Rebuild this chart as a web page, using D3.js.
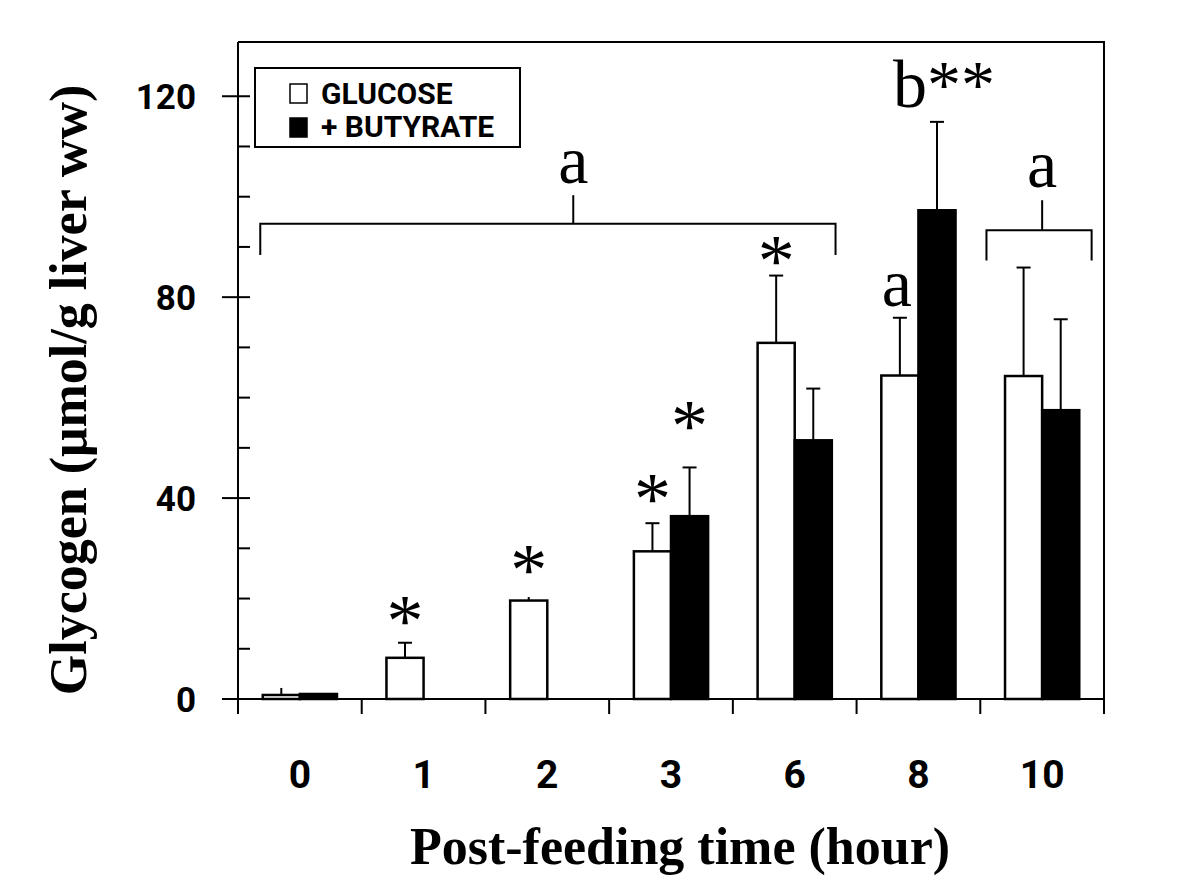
<!DOCTYPE html>
<html>
<head>
<meta charset="utf-8">
<script src="https://cdn.jsdelivr.net/npm/d3@7"></script>
<style>
  html, body { margin: 0; padding: 0; background: #fff; }
  svg { display: block; }
</style>
</head>
<body>
<svg id="chart" width="1200" height="881"></svg>
<script>
// ---------- data ----------
const categories = ["0", "1", "2", "3", "6", "8", "10"];
const seriesNames = ["GLUCOSE", "+ BUTYRATE"];
const glucoseMean = [0.8, 8.2, 19.6, 29.4, 70.9, 64.4, 64.3];
const glucoseSE   = [1.4, 3.0, 0.7, 5.6, 13.4, 11.5, 21.6];
const butyrateMean = [1.0, 0, 0, 36.4, 51.5, 97.3, 57.5];
const butyrateSE   = [0, 0, 0, 9.7, 10.3, 17.6, 18.1];
const yMajorTicks = [0, 40, 80, 120];
const yMinorTicks = [10, 20, 30, 50, 60, 70, 90, 100, 110];
const xTitle = "Post-feeding time (hour)";
const yTitle = "Glycogen (μmol/g liver ww)";
// significance marks: category, series, value at mark centre
const starMarks = [
  { cat: "1", series: 0, at: 17.7 },
  { cat: "2", series: 0, at: 27.7 },
  { cat: "3", series: 0, at: 42.0 },
  { cat: "3", series: 1, at: 56.5 },
  { cat: "6", series: 0, at: 89.2 }
];
// letter labels: category, series, text, baseline value
const letterMarks = [
  { cat: "8", series: 0, text: "a", at: 78.2 },
  { cat: "8", series: 1, text: "b**", at: 117.9 }
];
// brackets: span & stem in category-index units, line value, leg-end value, stem-top value, label baseline value
const brackets = [
  { from: -0.32, to: 4.33, stemAt: 2.21, line: 94.6, leg: 88.4, stem: 100.3, labelAt: 102.7, label: "a" },
  { from: 5.55, to: 6.40, stemAt: 6.0, line: 93.3, leg: 87.3, stem: 99.3, labelAt: 102.0, label: "a" }
];

(function () {
// ---------- layout ----------
const svg = d3.select("#chart");
const pLeft = 238, pRight = 1104, pTop = 42, pBottom = 699;

const x = d3.scaleBand().domain(categories).range([pLeft, pRight]).padding(0);
const bw = x.bandwidth();
const xs = d3.scaleBand().domain([0, 1]).range([bw * 0.2, bw * 0.8]).padding(0);
const xi = d3.scaleLinear().domain([0, 1]).range([x(categories[0]) + bw / 2, x(categories[1]) + bw / 2]);
const y = d3.scaleLinear().domain([0, 130.8]).range([pBottom, pTop]);

const serif = "'Liberation Serif', 'Times New Roman', serif";
const sans = "Roboto, 'Liberation Sans', Arial, sans-serif";

const rows = [];
categories.forEach((c, i) => {
  rows.push({ cat: c, s: 0, v: glucoseMean[i], e: glucoseSE[i] });
  rows.push({ cat: c, s: 1, v: butyrateMean[i], e: butyrateSE[i] });
});
const barCx = d => x(d.cat) + xs(d.s) + xs.bandwidth() / 2;

// frame (top + right)
svg.append("path")
  .attr("d", `M${pLeft},${pTop}H${pRight}V${pBottom}`)
  .attr("fill", "none").attr("stroke", "#000").attr("stroke-width", 2);

// error bars
const eb = svg.append("g").attr("stroke", "#000").attr("stroke-width", 2);
rows.filter(d => d.v > 0 && d.e > 0).forEach(d => {
  const cx = barCx(d);
  eb.append("line").attr("x1", cx).attr("x2", cx).attr("y1", y(d.v)).attr("y2", y(d.v + d.e));
  if (d.e > 2) {
    eb.append("line").attr("x1", cx - 7).attr("x2", cx + 7).attr("y1", y(d.v + d.e)).attr("y2", y(d.v + d.e));
  }
});

// bars
svg.append("g").selectAll("rect")
  .data(rows.filter(d => d.v > 0))
  .join("rect")
  .attr("x", d => x(d.cat) + xs(d.s))
  .attr("width", xs.bandwidth())
  .attr("y", d => y(d.v))
  .attr("height", d => y(0) - y(d.v))
  .attr("fill", d => d.s === 0 ? "#fff" : "#000")
  .attr("stroke", "#000")
  .attr("stroke-width", 2.5);

// y axis
const yAxis = svg.append("g").attr("transform", `translate(${pLeft},0)`);
yAxis.append("line").attr("x1", 0).attr("x2", 0).attr("y1", pTop).attr("y2", pBottom)
  .attr("stroke", "#000").attr("stroke-width", 2);
yAxis.selectAll(".maj").data(yMajorTicks).join("line").attr("class", "maj")
  .attr("x1", -16).attr("x2", 12).attr("y1", d => y(d)).attr("y2", d => y(d))
  .attr("stroke", "#000").attr("stroke-width", 2);
yAxis.selectAll(".min").data(yMinorTicks).join("line").attr("class", "min")
  .attr("x1", 0).attr("x2", 12).attr("y1", d => y(d)).attr("y2", d => y(d))
  .attr("stroke", "#000").attr("stroke-width", 2);
yAxis.selectAll("text").data(yMajorTicks).join("text")
  .attr("x", -42).attr("y", d => y(d)).attr("dy", "0.36em")
  .attr("text-anchor", "end")
  .attr("font-family", sans).attr("font-weight", "bold").attr("font-size", 35)
  .text(d => d);

// x axis
const xAxis = svg.append("g");
xAxis.append("line").attr("x1", pLeft).attr("x2", pRight).attr("y1", pBottom).attr("y2", pBottom)
  .attr("stroke", "#000").attr("stroke-width", 2);
const bounds = categories.map(c => x(c)).concat([pRight]);
xAxis.selectAll(".tk").data(bounds).join("line").attr("class", "tk")
  .attr("x1", d => d).attr("x2", d => d).attr("y1", pBottom).attr("y2", pBottom + 15)
  .attr("stroke", "#000").attr("stroke-width", 2);
xAxis.selectAll("text").data(categories).join("text")
  .attr("x", d => x(d) + bw / 2).attr("y", 788)
  .attr("text-anchor", "middle")
  .attr("font-family", sans).attr("font-weight", "bold").attr("font-size", 39)
  .text(d => d);

// axis titles
svg.append("text")
  .attr("x", 680).attr("y", 864).attr("text-anchor", "middle")
  .attr("font-family", serif).attr("font-weight", "bold").attr("font-size", 52)
  .text(xTitle);
svg.append("text")
  .attr("transform", "translate(86,390) rotate(-90)")
  .attr("text-anchor", "middle")
  .attr("font-family", serif).attr("font-weight", "bold").attr("font-size", 52)
  .text(yTitle);

// legend
const lg = svg.append("g");
lg.append("rect").attr("x", 255).attr("y", 68).attr("width", 265).attr("height", 79)
  .attr("fill", "#fff").attr("stroke", "#000").attr("stroke-width", 2);
seriesNames.forEach((name, i) => {
  lg.append("rect").attr("x", 290).attr("y", 84 + i * 34).attr("width", 17).attr("height", 19)
    .attr("fill", i === 0 ? "#fff" : "#000").attr("stroke", "#000").attr("stroke-width", 1.5);
  lg.append("text").attr("x", 321).attr("y", 104 + i * 33)
    .attr("font-family", sans).attr("font-weight", "bold").attr("font-size", 30)
    .text(name);
});

// annotations
const ann = svg.append("g").attr("font-family", serif).attr("font-size", 68).attr("fill", "#000");
starMarks.forEach(m => {
  ann.append("text")
    .attr("x", x(m.cat) + xs(m.series) + xs.bandwidth() / 2)
    .attr("y", y(m.at) + 0.48 * 74)
    .attr("text-anchor", "middle")
    .attr("font-size", 74)
    .text("*");
});
letterMarks.forEach(m => {
  ann.append("text")
    .attr("x", x(m.cat) + xs(m.series) + xs.bandwidth() / 2 + (m.text.length > 1 ? 7 : -3))
    .attr("y", y(m.at))
    .attr("text-anchor", "middle")
    .text(m.text);
});
const br = svg.append("g").attr("fill", "none").attr("stroke", "#000").attr("stroke-width", 2);
brackets.forEach(b => {
  const x0 = xi(b.from), x1 = xi(b.to), xm = xi(b.stemAt);
  br.append("path").attr("d", `M${x0},${y(b.leg)}V${y(b.line)}H${x1}V${y(b.leg)}`);
  br.append("line").attr("x1", xm).attr("x2", xm).attr("y1", y(b.line)).attr("y2", y(b.stem));
  ann.append("text").attr("x", xm).attr("y", y(b.labelAt)).attr("text-anchor", "middle").text(b.label);
});
})();
</script>
</body>
</html>
